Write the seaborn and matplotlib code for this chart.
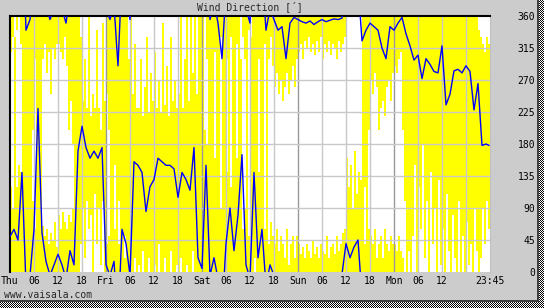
import numpy as np
import pandas as pd
import matplotlib
matplotlib.use("Agg")
import matplotlib.pyplot as plt
import seaborn as sns

days = ["Thu", "Fri", "Sat", "Sun", "Mon"]

# hourly wind direction (deg), Thu 00h .. Mon 23h
dir_thu = [50, 60, 45, 140, 340, 355, 60, 230, 55, 15, 355, 10, 25, 10, 350, 30, 10, 170, 205, 175, 160, 170, 160, 175]
dir_fri = [10, 355, 15, 290, 60, 40, 355, 155, 150, 140, 85, 120, 130, 160, 155, 150, 150, 145, 105, 140, 130, 115, 175, 20]
dir_sat = [5, 150, 355, 20, 350, 300, 40, 90, 30, 80, 165, 10, 350, 140, 20, 60, 340, 10, 355, 340, 345, 300, 350, 358]
dir_sun = [355, 352, 350, 353, 348, 352, 355, 352, 354, 356, 355, 357, 40, 20, 35, 45, 325, 340, 350, 345, 340, 315, 300, 345]
dir_mon = [340, 350, 358, 335, 318, 298, 305, 272, 300, 292, 282, 280, 318, 235, 250, 283, 285, 280, 290, 282, 228, 265, 178, 180]
dir_last = 178  # 23:45

# half-hourly min/max range (max above 360 = range wraps past north)
lo_thu = [310, 330, 0, 340, 0, 320, 0, 0, 0, 0, 0, 200, 300, 0, 0, 0, 300, 320, 280, 310, 250, 315, 300, 320,
          320, 310, 300, 330, 290, 200, 240, 180, 0, 0, 100, 40, 90, 20, 100, 60, 80, 0, 110, 40, 90, 10, 100, 0]
hi_thu = [480, 450, 330, 480, 150, 500, 360, 360, 360, 360, 360, 460, 420, 360, 360, 360, 425, 410, 420, 400, 415, 405, 430, 395,
          440, 420, 445, 430, 420, 440, 430, 450, 360, 360, 480, 330, 240, 300, 230, 360, 220, 250, 230, 340, 230, 200, 350, 240]
lo_fri = [250, 200, 0, 0, 150, 0, 100, 0, 0, 50, 0, 0, 0, 0, 20, 0, 10, 0, 30, 0, 0, 20, 0, 0,
          10, 0, 40, 0, 0, 20, 0, 0, 30, 0, 0, 10, 0, 20, 0, 0, 10, 0, 0, 30, 0, 0, 0, 0]
hi_fri = [400, 410, 360, 360, 420, 360, 400, 360, 360, 380, 360, 300, 360, 250, 320, 230, 230, 300, 220, 260, 330, 225, 280, 240,
          310, 230, 270, 225, 350, 235, 290, 220, 330, 240, 270, 230, 250, 360, 230, 300, 360, 240, 360, 280, 360, 250, 360, 360]
lo_sat = [0, 0, 300, 0, 0, 0, 310, 0, 0, 330, 0, 0, 300, 0, 330, 0, 0, 320, 0, 0, 330, 300, 0, 340,
          0, 0, 20, 0, 300, 0, 0, 320, 0, 300, 330, 290, 260, 280, 250, 270, 240, 260, 280, 250, 270, 290, 260, 300]
hi_sat = [360, 200, 540, 360, 360, 360, 520, 360, 360, 450, 360, 360, 500, 360, 480, 360, 360, 520, 360, 300, 420, 450, 360, 410,
          330, 360, 360, 360, 500, 360, 360, 420, 360, 400, 430, 410, 400, 420, 390, 410, 400, 380, 420, 370, 400, 410, 380, 410]
lo_sun = [310, 320, 300, 325, 315, 330, 310, 320, 305, 325, 310, 330, 300, 320, 310, 325, 305, 320, 315, 300, 325, 310, 320, 330,
          0, 0, 0, 0, 0, 0, 0, 0, 0, 120, 0, 200, 270, 250, 280, 260, 200, 230, 240, 220, 260, 270, 240, 280]
hi_sun = [400, 385, 395, 380, 400, 390, 380, 405, 385, 395, 380, 400, 390, 385, 410, 380, 395, 400, 385, 410, 390, 400, 415, 420,
          160, 120, 150, 90, 170, 110, 140, 130, 360, 400, 360, 420, 410, 400, 420, 380, 400, 410, 380, 420, 400, 390, 410, 400]
lo_mon = [290, 280, 300, 310, 200, 100, 0, 30, 0, 50, 150, 0, 120, 60, 180, 20, 100, 0, 140, 40, 90, 0, 130, 10,
          60, 0, 110, 30, 0, 80, 20, 0, 100, 0, 50, 0, 70, 10, 40, 0, 90, 30, 0, 20, 90, 40, 100, 60]
hi_mon = [400, 390, 410, 390, 380, 360, 360, 360, 360, 360, 360, 360, 360, 360, 360, 360, 360, 360, 360, 360, 360, 360, 360, 360,
          360, 360, 360, 360, 360, 360, 360, 360, 360, 360, 360, 360, 360, 360, 360, 360, 360, 360, 340, 330, 320, 310, 330, 320]

y_ticks = [0, 45, 90, 135, 180, 225, 270, 315, 360]

sns.set_style("white")
plt.rcParams["font.family"] = ["DejaVu Sans Mono"]
plt.rcParams["font.size"] = 7

W, H = 544, 308
fig = plt.figure(figsize=(W / 100, H / 100), dpi=100, facecolor="#cccccc")

# grey panel with a dark edge and checkered drop shadow
yy, xx = np.mgrid[0:H, 0:W]
bg = np.full((H, W, 3), 204, dtype=np.uint8)
checker = ((xx + yy) % 2 * 255).astype(np.uint8)
outside = (xx >= 539) | (yy >= 302)
bg[outside] = checker[outside][:, None]
bg[(xx >= 537) & (xx < 539) & (yy < 302)] = 64
bg[(yy >= 300) & (yy < 302) & (xx < 539)] = 64
fig.figimage(bg, xo=0, yo=0, origin="upper", zorder=-10)

ax = fig.add_axes([10 / W, (H - 272) / H, 480 / W, 256 / H])
ax.set_facecolor("white")

# yellow min/max range as stepped fills (no seams between samples)
lo = np.array(lo_thu + lo_fri + lo_sat + lo_sun + lo_mon, dtype=float)
hi = np.array(hi_thu + hi_fri + hi_sat + hi_sun + hi_mon, dtype=float)
t = np.arange(len(lo) + 1) * 0.5
lo_s = np.append(lo, lo[-1])
hi_s = np.append(hi, hi[-1])
ax.fill_between(t, lo_s, np.minimum(hi_s, 360), step="post",
                color="#ffff00", linewidth=0, zorder=1)
ax.fill_between(t, 0, np.maximum(hi_s - 360, 0), step="post",
                color="#ffff00", linewidth=0, zorder=1)

# grid
for h in range(6, 120, 6):
    ax.axvline(h, color="#999999" if h % 24 == 0 else "#c8c8c8", lw=1.0, zorder=2)
for d in y_ticks[1:-1]:
    ax.axhline(d, color="#c8c8c8", lw=1.0, zorder=2)

# blue direction line, drawn so that it runs off the edge at north
direction = np.array(dir_thu + dir_fri + dir_sat + dir_sun + dir_mon + [dir_last], dtype=float)
hours = np.arange(len(direction), dtype=float)
hours[-1] = 119.75
unwrapped = np.unwrap(direction, period=360)
for off in (-360, 0, 360):
    df = pd.DataFrame({"hour": hours, "dir": unwrapped + off})
    sns.lineplot(data=df, x="hour", y="dir", ax=ax, color="#0000ff", lw=1.0,
                 estimator=None, sort=False, zorder=4)

ax.set_xlim(0, 120)
ax.set_ylim(0, 360)
ax.set_xlabel("")
ax.set_ylabel("")

x_pos = list(range(0, 114, 6)) + [120]
x_lab = []
for d in days:
    x_lab += [d, "06", "12", "18"]
x_lab = x_lab[:19] + ["23:45"]
ax.set_xticks(x_pos)
ax.set_xticklabels(x_lab)
ax.tick_params(axis="x", length=0, pad=3, colors="black")

ax.yaxis.tick_right()
ax.set_yticks(y_ticks)
ax.set_yticklabels([str(v) for v in y_ticks])
ax.tick_params(axis="y", length=0, pad=32.4, colors="black")
for lbl in ax.get_yticklabels():
    lbl.set_horizontalalignment("right")

for side in ("top", "left"):
    ax.spines[side].set_color("black")
    ax.spines[side].set_linewidth(1.5)
ax.spines["right"].set_color("#c0c0c0")
ax.spines["right"].set_linewidth(0.8)
ax.spines["bottom"].set_visible(False)

fig.text(250 / W, 1 - 7 / H, "Wind Direction [´]", ha="center", va="center")
fig.text(4 / W, 1 - 295 / H, "www.vaisala.com", ha="left", va="center")

fig.savefig("out.png", dpi=100)
